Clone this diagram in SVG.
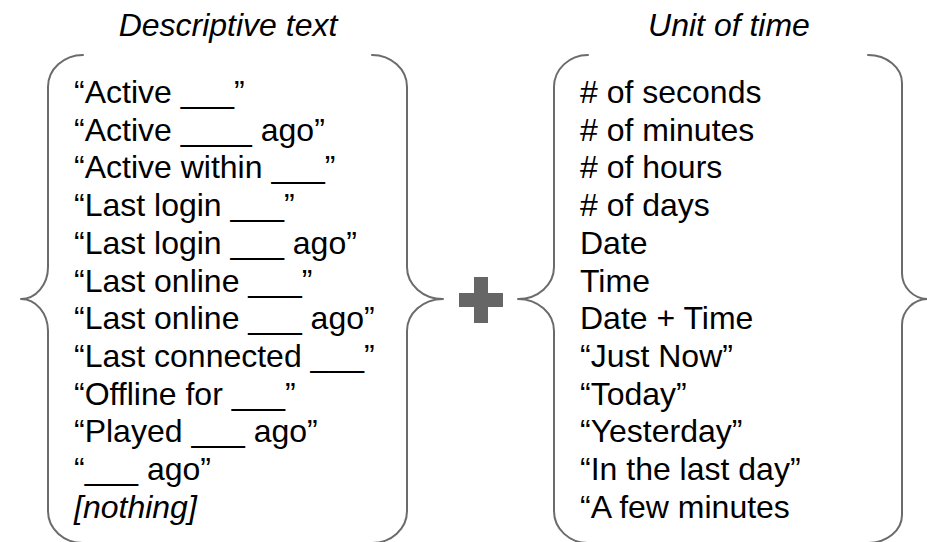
<svg xmlns="http://www.w3.org/2000/svg" width="927" height="542" viewBox="0 0 927 542">
<style>
.bg{fill:#ffffff}
.brace{fill:none;stroke:#6b6b6b;stroke-width:2;stroke-linecap:round;stroke-linejoin:round}
.hdr{font-family:"Liberation Sans",Arial,sans-serif;font-size:32px;font-style:italic;fill:#000;text-anchor:middle}
.item{font-family:"Liberation Sans",Arial,sans-serif;font-size:32px;fill:#000}
.it{font-style:italic}
.plus{fill:#666666}
</style>
<rect class="bg" x="0" y="0" width="927" height="542"/>
<g id="header-descriptive"><text class="hdr" x="228" y="36">Descriptive text</text></g>
<g id="header-unit"><text class="hdr" x="729" y="36">Unit of time</text></g>
<g id="braces">
<path id="brace-left-open" class="brace" d="M83,55 C63.7,55 48,69.3 48,87 L48,267 C48,284.7 35.9,299 21,299 C35.9,299 48,313.3 48,331 L48,511 C48,528.7 63.7,543 83,543"/>
<path id="brace-left-close" class="brace" d="M372,55 C391.3,55 407,69.3 407,87 L407,267 C407,284.7 423.1,299 443,299 C423.1,299 407,313.3 407,331 L407,511 C407,528.7 391.3,543 372,543"/>
<path id="brace-right-open" class="brace" d="M588,55 C569.2,55 554,69.3 554,87 L554,267 C554,284.7 537.9,299 518,299 C537.9,299 554,313.3 554,331 L554,511 C554,528.7 569.2,543 588,543"/>
<path id="brace-right-close" class="brace" d="M868,55 C886.8,55 902,67.5 902,83 L902,273 C902,287.4 913.6,299 928,299 C913.6,299 902,310.6 902,325 L902,515 C902,530.5 886.8,543 868,543"/>
</g>
<g id="plus"><path class="plus" d="M474,277 H488 V293 H503 V307 H488 V323 H474 V307 H459 V293 H474 Z"/></g>
<g id="descriptive-list">
<text class="item" x="74" y="103">“Active ___”</text>
<text class="item" x="74" y="140.7">“Active ____ ago”</text>
<text class="item" x="74" y="178.4">“Active within ___”</text>
<text class="item" x="74" y="216.1">“Last login ___”</text>
<text class="item" x="74" y="253.8">“Last login ___ ago”</text>
<text class="item" x="74" y="291.5">“Last online ___”</text>
<text class="item" x="74" y="329.2">“Last online ___ ago”</text>
<text class="item" x="74" y="366.9">“Last connected ___”</text>
<text class="item" x="74" y="404.6">“Offline for ___”</text>
<text class="item" x="74" y="442.3">“Played ___ ago”</text>
<text class="item" x="74" y="480">“___ ago”</text>
<text class="item it" x="74" y="517.7">[nothing]</text>
</g>
<g id="unit-list">
<text class="item" x="580" y="103"># of seconds</text>
<text class="item" x="580" y="140.7"># of minutes</text>
<text class="item" x="580" y="178.4"># of hours</text>
<text class="item" x="580" y="216.1"># of days</text>
<text class="item" x="580" y="253.8">Date</text>
<text class="item" x="580" y="291.5">Time</text>
<text class="item" x="580" y="329.2">Date + Time</text>
<text class="item" x="580" y="366.9">“Just Now”</text>
<text class="item" x="580" y="404.6">“Today”</text>
<text class="item" x="580" y="442.3">“Yesterday”</text>
<text class="item" x="580" y="480">“In the last day”</text>
<text class="item" x="580" y="517.7">“A few minutes</text>
</g>
</svg>
